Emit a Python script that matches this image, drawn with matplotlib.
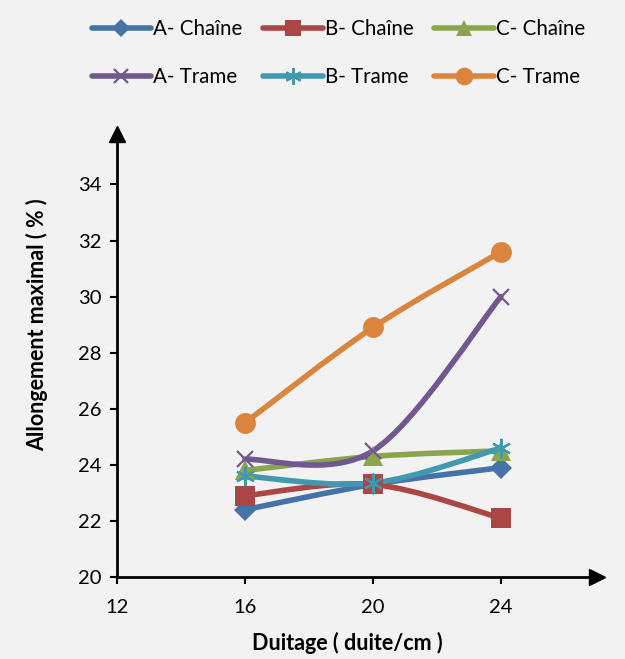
import numpy as np
import matplotlib
matplotlib.use('Agg')
import matplotlib.pyplot as plt
from matplotlib.path import Path
from matplotlib.patches import PathPatch
from matplotlib.lines import Line2D

plt.rcParams['font.family'] = ['Lato', 'DejaVu Sans']

# data
duitage = [16, 20, 24]
series_names = ['A- Chaîne', 'B- Chaîne', 'C- Chaîne', 'A- Trame', 'B- Trame', 'C- Trame']
a_chaine = [22.4, 23.3, 23.9]
b_chaine = [22.9, 23.3, 22.1]
c_chaine = [23.8, 24.3, 24.5]
a_trame = [24.2, 24.5, 30.0]
b_trame = [23.6, 23.35, 24.6]
c_trame = [25.5, 28.9, 31.6]
values = [a_chaine, b_chaine, c_chaine, a_trame, b_trame, c_trame]

colors = ['#4572A7', '#AA4643', '#89A54E', '#71588F', '#4198AF', '#DB843D']
markers = ['D', 's', '^', 'x', (6, 2, 0), 'o']
msizes = [11, 14, 14, 12, 14, 15]
bg = '#F2F2F2'


def smooth_path(x, y):
    # excel style smoothed line (bezier through the points)
    pts = np.column_stack([x, y]).astype(float)
    n = len(pts)
    verts = [pts[0]]
    codes = [Path.MOVETO]
    for i in range(n - 1):
        p0 = pts[i - 1] if i > 0 else pts[i]
        p1 = pts[i]
        p2 = pts[i + 1]
        p3 = pts[i + 2] if i + 2 < n else pts[i + 1]
        c1 = p1 + (p2 - p0) / 6.0
        c2 = p2 - (p3 - p1) / 6.0
        verts += [c1, c2, p2]
        codes += [Path.CURVE4] * 3
    return Path(verts, codes)


fig = plt.figure(figsize=(6.25, 6.59), dpi=100, facecolor=bg)
ax = fig.add_axes([117 / 625, 82 / 659, 480 / 625, 443 / 659])
ax.set_facecolor(bg)

handles = []
for name, vals, col, mk, ms in zip(series_names, values, colors, markers, msizes):
    patch = PathPatch(smooth_path(duitage, vals), facecolor='none', edgecolor=col,
                      lw=4.0, capstyle='round', zorder=2)
    ax.add_patch(patch)
    mew = 1.6 if mk in ('x',) or isinstance(mk, tuple) else 0
    ax.plot(duitage, vals, ls='none', marker=mk, color=col, ms=ms, mew=mew,
            mec=col, zorder=3)
    handles.append(Line2D([], [], color=col, lw=4.0, marker=mk, ms=ms * 0.85,
                          mew=mew, mec=col, solid_capstyle='round'))

ax.set_xlim(12, 27)
ax.set_ylim(20, 35.8)
ax.set_xticks([12, 16, 20, 24])
ax.set_yticks(np.arange(20, 35, 2))
ax.tick_params(labelsize=14.5, width=1.5, length=5, colors='black', pad=6)
ax.tick_params(axis='x', pad=11)
for s in ['top', 'right']:
    ax.spines[s].set_visible(False)
for s in ['left', 'bottom']:
    ax.spines[s].set_linewidth(2)

# arrow heads on the axes
ax.plot([1], [0], marker='>', color='black', ms=12, transform=ax.transAxes, clip_on=False)
ax.plot([0], [1], marker='^', color='black', ms=12, transform=ax.transAxes, clip_on=False)

fig.text(347 / 625, 1 - 643 / 659, 'Duitage ( duite/cm )', ha='center', va='center',
         fontsize=15.5, fontweight='bold')
fig.text(37 / 625, 1 - 325 / 659, 'Allongement maximal ( % )', ha='center', va='center',
         rotation=90, fontsize=15.5, fontweight='bold')

# legend filled row by row like the original
order = [0, 3, 1, 4, 2, 5]
fig.legend(handles=[handles[i] for i in order], labels=[series_names[i] for i in order],
           loc='upper center', bbox_to_anchor=(0.541, 0.999), ncol=3, frameon=False,
           fontsize=14.8, handlelength=2.9, handletextpad=0.1, columnspacing=1.0,
           labelspacing=1.35)

fig.savefig('out.png', dpi=100, facecolor=bg)
